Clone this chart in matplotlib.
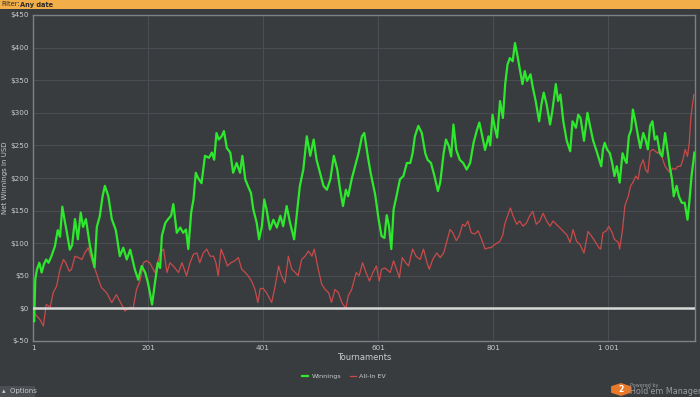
import matplotlib
matplotlib.use("Agg")
import matplotlib.pyplot as plt
from matplotlib.patches import RegularPolygon, Rectangle

# values (tournament number, net winnings in USD)
win_t = [1, 3, 5, 8, 12, 16, 20, 24, 28, 33, 39, 44, 48, 52, 56, 59, 65, 69, 74, 79,
         84, 88, 93, 100, 108, 112, 117, 122, 126, 132, 138, 145, 152, 158, 164, 170, 178, 184, 190, 196,
         201, 208, 213, 218, 222, 225, 231, 236, 241, 245, 251, 257, 262, 267, 271, 276, 280, 284, 288, 294,
         300, 307, 312, 316, 320, 324, 329, 333, 338, 344, 349, 355, 361, 365, 370, 375, 380, 384, 390, 394,
         399, 403, 407, 413, 419, 425, 431, 436, 442, 448, 455, 460, 465, 471, 477, 483, 489, 494, 500, 506,
         512, 518, 524, 530, 535, 540, 545, 549, 555, 561, 567, 573, 577, 583, 588, 596, 602, 607, 612, 616,
         620, 624, 628, 633, 639, 645, 651, 657, 661, 665, 671, 677, 683, 687, 693, 699, 705, 709, 715, 719,
         724, 728, 732, 737, 743, 749, 755, 761, 767, 773, 777, 781, 787, 793, 796, 800, 804, 808, 813, 818,
         822, 826, 830, 835, 839, 843, 847, 852, 856, 860, 866, 870, 875, 881, 885, 889, 894, 900, 904, 910,
         914, 918, 923, 929, 935, 939, 945, 949, 953, 959, 965, 969, 975, 981, 989, 992, 995, 999, 1004, 1008,
         1012, 1016, 1021, 1026, 1030, 1033, 1037, 1041, 1044, 1049, 1053, 1057, 1062, 1066, 1070, 1074, 1078, 1082, 1086, 1091,
         1095, 1100, 1104, 1108, 1112, 1115, 1120, 1124, 1129, 1134, 1139, 1142, 1146, 1151]
win_v = [-5, -20, 45, 60, 70, 55, 68, 75, 70, 80, 95, 120, 110, 156, 135, 121, 90, 97, 137, 106,
         147, 125, 137, 96, 63, 125, 141, 172, 188, 172, 137, 120, 80, 93, 75, 90, 60, 44, 65, 55,
         39, 6, 39, 70, 62, 111, 131, 137, 142, 160, 116, 124, 116, 121, 91, 147, 167, 208, 200, 192,
         234, 231, 239, 228, 269, 259, 264, 272, 246, 239, 208, 223, 208, 234, 198, 187, 177, 152, 131, 106,
         126, 167, 152, 121, 136, 124, 142, 126, 157, 131, 106, 147, 188, 213, 264, 234, 259, 228, 208, 188,
         182, 198, 234, 213, 182, 157, 182, 172, 198, 218, 238, 264, 269, 234, 208, 174, 136, 111, 108, 143,
         126, 91, 152, 172, 198, 203, 223, 223, 238, 264, 280, 269, 238, 228, 223, 203, 180, 193, 238, 259,
         249, 233, 282, 243, 228, 223, 213, 223, 254, 274, 285, 269, 243, 264, 250, 297, 277, 262, 318, 292,
         344, 374, 384, 379, 407, 389, 369, 344, 364, 349, 359, 339, 318, 287, 313, 331, 313, 282, 303, 344,
         318, 328, 287, 257, 241, 287, 277, 297, 292, 257, 300, 282, 257, 241, 218, 244, 254, 244, 238, 223,
         203, 218, 193, 238, 228, 223, 264, 274, 305, 284, 264, 246, 269, 259, 244, 280, 287, 259, 264, 238,
         233, 269, 244, 218, 198, 172, 188, 172, 162, 162, 136, 162, 203, 239]

ev_t = [1, 8, 13, 19, 24, 31, 36, 42, 48, 54, 58, 64, 68, 74, 80, 86, 91, 97, 103, 109,
        115, 120, 129, 138, 146, 155, 161, 170, 175, 181, 187, 193, 198, 204, 213, 222, 228, 234, 239, 245,
        254, 260, 268, 274, 280, 286, 291, 297, 303, 309, 315, 319, 323, 328, 333, 339, 345, 352, 358, 364,
        370, 375, 381, 387, 392, 396, 401, 407, 416, 422, 428, 433, 439, 445, 451, 457, 462, 468, 474, 480,
        486, 490, 497, 503, 509, 515, 520, 526, 532, 538, 545, 549, 555, 563, 568, 574, 580, 586, 592, 598,
        603, 607, 613, 622, 628, 633, 638, 643, 649, 654, 661, 667, 674, 680, 686, 690, 696, 703, 709, 715,
        720, 726, 731, 737, 742, 748, 752, 757, 763, 769, 775, 781, 787, 793, 797, 804, 813, 818, 821, 827,
        831, 836, 842, 847, 853, 859, 864, 870, 876, 882, 888, 894, 900, 905, 911, 920, 929, 935, 940, 946,
        952, 959, 966, 972, 978, 985, 988, 992, 998, 1002, 1008, 1012, 1019, 1021, 1026, 1030, 1036, 1040, 1044, 1049,
        1053, 1057, 1062, 1066, 1070, 1074, 1079, 1083, 1087, 1092, 1096, 1100, 1104, 1109, 1113, 1118, 1122, 1127, 1131, 1135,
        1139, 1142, 1145, 1150]
ev_v = [-4, -12, -17, -27, 6, 2, 24, 34, 60, 75, 70, 57, 60, 80, 78, 75, 85, 93, 75, 60,
        44, 32, 24, 9, 21, 6, -4, 2, 0, 29, 42, 70, 73, 70, 55, 85, 91, 55, 70, 65,
        55, 70, 50, 70, 83, 85, 70, 85, 91, 80, 80, 70, 50, 91, 80, 65, 70, 73, 78, 60,
        55, 50, 42, 29, 9, 30, 31, 24, 9, 34, 65, 50, 39, 80, 60, 55, 50, 75, 80, 88,
        80, 91, 60, 37, 29, 24, 9, 29, 24, 9, 0, 19, 29, 55, 50, 70, 55, 42, 55, 65,
        42, 60, 62, 55, 73, 60, 47, 78, 70, 65, 91, 80, 75, 91, 70, 60, 75, 85, 78, 85,
        101, 121, 116, 104, 111, 129, 126, 134, 116, 114, 119, 106, 91, 93, 93, 98, 103, 113, 129, 144,
        154, 141, 129, 134, 126, 131, 141, 149, 129, 134, 146, 134, 126, 134, 129, 121, 113, 101, 121, 103,
        98, 85, 118, 111, 103, 93, 91, 116, 119, 126, 116, 106, 101, 91, 121, 157, 172, 188, 193, 203,
        198, 218, 228, 213, 208, 241, 244, 241, 238, 244, 228, 218, 213, 208, 215, 213, 218, 218, 228, 244,
        233, 254, 295, 328]

x_ticks = [1, 201, 401, 601, 801, 1001]
x_tick_labels = ["1", "201", "401", "601", "801", "1 001"]
y_ticks = [-50, 0, 50, 100, 150, 200, 250, 300, 350, 400, 450]

BG = "#393c3f"
GRID = "#4a4d51"
TEXT = "#c9cbcd"

fig = plt.figure(figsize=(7.0, 3.97), dpi=100, facecolor=BG)
ax = fig.add_axes([33 / 700, 1 - 341 / 397, 662 / 700, 326 / 397], facecolor=BG)

ax.plot(win_t, win_v, color="#2ee82e", linewidth=1.6, label="Winnings", zorder=3)
ax.plot(ev_t, ev_v, color="#c94a4a", linewidth=0.9, label="All-In EV", zorder=2)
ax.axhline(0, color="#d8d8d8", linewidth=1.8, zorder=4)

ax.set_xlim(1, 1152)
ax.set_ylim(-50, 450)
ax.set_xticks(x_ticks)
ax.set_xticklabels(x_tick_labels)
ax.set_yticks(y_ticks)
ax.set_yticklabels([f"${v}" for v in y_ticks])
ax.tick_params(length=0, labelsize=5.2, colors=TEXT, pad=3)
ax.grid(color=GRID, linewidth=0.8)
for s in ax.spines.values():
    s.set_color("#7d8185")
    s.set_linewidth(1.0)

ax.set_xlabel("Tournaments", fontsize=6, color=TEXT, labelpad=1)
ax.set_ylabel("Net Winnings in USD", fontsize=5, color=TEXT, labelpad=2)

fig.legend(loc="center", bbox_to_anchor=(344 / 700, 1 - 376 / 397), ncol=2, frameon=False,
           fontsize=4.6, labelcolor=TEXT, handlelength=1.0, handletextpad=0.5,
           columnspacing=1.3)

# filter bar on top
fig.patches.append(Rectangle((0, 1 - 9 / 397), 1, 9 / 397, transform=fig.transFigure,
                             facecolor="#f2ae48", edgecolor="none"))
fig.text(1 / 700, 1 - 4.5 / 397, "Filter:", fontsize=4.8, color="#2a2a2a", va="center")
fig.text(20 / 700, 1 - 4.5 / 397, "Any date", fontsize=4.8, color="#2a2a2a", va="center",
         fontweight="bold")

# options button bottom left
fig.patches.append(Rectangle((0, 0), 35 / 700, 11 / 397, transform=fig.transFigure,
                             facecolor="#4b4e52", edgecolor="none"))
fig.text(2 / 700, 5.5 / 397, "\u25b4  Options", fontsize=5, color=TEXT, va="center")

# powered by logo bottom right
fig.patches.append(RegularPolygon((621 / 700, 7.5 / 397), 6, radius=6.5 / 397,
                                  transform=fig.transFigure, facecolor="#e8782a",
                                  edgecolor="none"))
fig.text(621 / 700, 7.5 / 397, "2", fontsize=5.5, color="white", ha="center", va="center",
         fontweight="bold")
fig.text(630 / 700, 12 / 397, "Powered by", fontsize=3.5, color="#9a9c9e", va="center")
fig.text(630 / 700, 5 / 397, "Hold'em Manager", fontsize=5.8, color="#9a9c9e", va="center")

fig.savefig("out.png", dpi=100, facecolor=BG)
